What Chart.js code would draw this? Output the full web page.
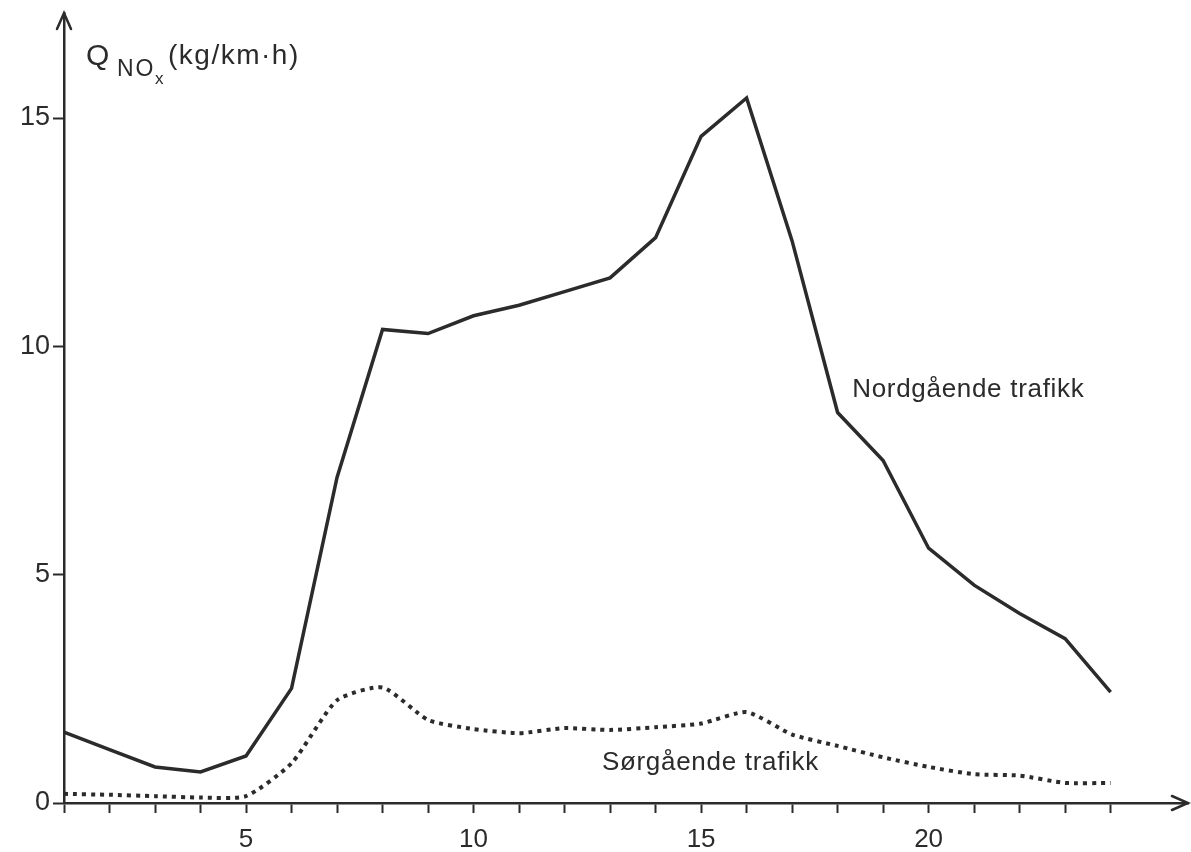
<!DOCTYPE html>
<html><head><meta charset="utf-8">
<script src="https://cdn.jsdelivr.net/npm/chart.js@4"></script>
<style>html,body{margin:0;padding:0;background:#fff}canvas{display:block}</style>
</head><body>
<canvas id="c" width="1191" height="852"></canvas>
<script>
// ---- data ----
const hours = [1,2,3,4,5,6,7,8,9,10,11,12,13,14,15,16,17,18,19,20,21,22,23,24];
const nordgaende = [1.55,1.17,0.79,0.68,1.03,2.51,7.13,10.37,10.28,10.67,10.9,11.2,11.5,12.38,14.6,15.44,12.31,8.55,7.5,5.58,4.77,4.15,3.6,2.43];
const sorgaende  = [0.2,0.18,0.15,0.12,0.15,0.87,2.25,2.53,1.82,1.62,1.53,1.64,1.6,1.66,1.74,1.99,1.5,1.25,1.0,0.79,0.63,0.6,0.44,0.44];
const xTickValues = hours;
const xTickLabels = ['5','10','15','20'];
const yTickValues = [0,5,10,15];
const yTickLabels = ['0','5','10','15'];
const seriesLabels = ['Nordgående trafikk','Sørgående trafikk'];
const yTitleParts = ['Q','NO','x','(kg/km·h)'];

const ink = '#2b2b2b';
const FONT = '"Liberation Sans", Arial, sans-serif';

const decor = {
  id: 'decor',
  afterDraw(chart) {
    const {ctx, chartArea: a, scales: {x, y}} = chart;
    ctx.save();
    ctx.strokeStyle = ink; ctx.fillStyle = ink;
    ctx.lineWidth = 2.5; ctx.lineCap = 'round'; ctx.lineJoin = 'miter';
    // arrowheads
    ctx.beginPath();
    ctx.moveTo(a.left - 7, a.top + 16); ctx.lineTo(a.left, a.top); ctx.lineTo(a.left + 7, a.top + 16);
    ctx.stroke();
    ctx.beginPath();
    ctx.moveTo(a.right - 16, a.bottom - 7); ctx.lineTo(a.right, a.bottom); ctx.lineTo(a.right - 16, a.bottom + 7);
    ctx.stroke();
    // axis title
    ctx.textAlign = 'left'; ctx.textBaseline = 'alphabetic';
    ctx.font = '30px ' + FONT; ctx.letterSpacing = '0px';
    ctx.fillText(yTitleParts[0], 86, 65);
    ctx.font = '23px ' + FONT; ctx.letterSpacing = '2px';
    ctx.fillText(yTitleParts[1], 117, 76);
    ctx.font = '17px ' + FONT; ctx.letterSpacing = '0px';
    ctx.fillText(yTitleParts[2], 155, 84);
    ctx.font = '28px ' + FONT; ctx.letterSpacing = '1.5px';
    ctx.fillText(yTitleParts[3], 168, 64);
    // series labels
    ctx.font = '26px ' + FONT; ctx.letterSpacing = '0.7px';
    ctx.fillText(seriesLabels[0], x.getPixelForValue(18.32), y.getPixelForValue(8.88));
    ctx.fillText(seriesLabels[1], x.getPixelForValue(12.82), y.getPixelForValue(0.72));
    ctx.restore();
  }
};

new Chart(document.getElementById('c'), {
  type: 'line',
  data: {
    datasets: [
      {
        label: seriesLabels[0],
        data: hours.map((h, i) => ({x: h, y: nordgaende[i]})),
        borderColor: ink, borderWidth: 3.5, pointRadius: 0, tension: 0,
        borderJoinStyle: 'miter', fill: false
      },
      {
        label: seriesLabels[1],
        data: hours.map((h, i) => ({x: h, y: sorgaende[i]})),
        borderColor: ink, borderWidth: 4, borderDash: [4, 5], borderCapStyle: 'butt',
        pointRadius: 0, tension: 0.2, fill: false
      }
    ]
  },
  options: {
    responsive: false, animation: false, events: [],
    layout: {padding: {top: 13, right: 3, left: 0, bottom: 0}},
    plugins: {legend: {display: false}, tooltip: {enabled: false}},
    scales: {
      x: {
        type: 'linear', min: 1, max: 25.7,
        afterBuildTicks: s => { s.ticks = xTickValues.map(v => ({value: v})); },
        afterFit: s => { s.height = 49; s.paddingLeft = 0; s.paddingRight = 0; },
        grid: {drawOnChartArea: false, drawTicks: true, tickLength: 10, tickColor: ink, tickWidth: 2},
        border: {display: true, color: ink, width: 2.5},
        ticks: {
          autoSkip: false, maxRotation: 0, minRotation: 0, padding: 11, color: ink,
          font: {family: FONT, size: 26},
          callback: v => { const s = String(v); return xTickLabels.includes(s) ? s : ''; }
        }
      },
      y: {
        type: 'linear', min: 0, max: 17.3,
        afterBuildTicks: s => { s.ticks = yTickValues.map(v => ({value: v})); },
        afterFit: s => { s.width = 64; s.paddingTop = 0; s.paddingBottom = 0; },
        grid: {drawOnChartArea: false, drawTicks: true, tickLength: 11, tickColor: ink, tickWidth: 2},
        border: {display: true, color: ink, width: 2.5},
        ticks: {
          padding: 3, color: ink, font: {family: FONT, size: 27},
          callback: v => { const i = yTickValues.indexOf(v); return i >= 0 ? yTickLabels[i] : ''; }
        }
      }
    }
  },
  plugins: [decor]
});
</script>
</body></html>
